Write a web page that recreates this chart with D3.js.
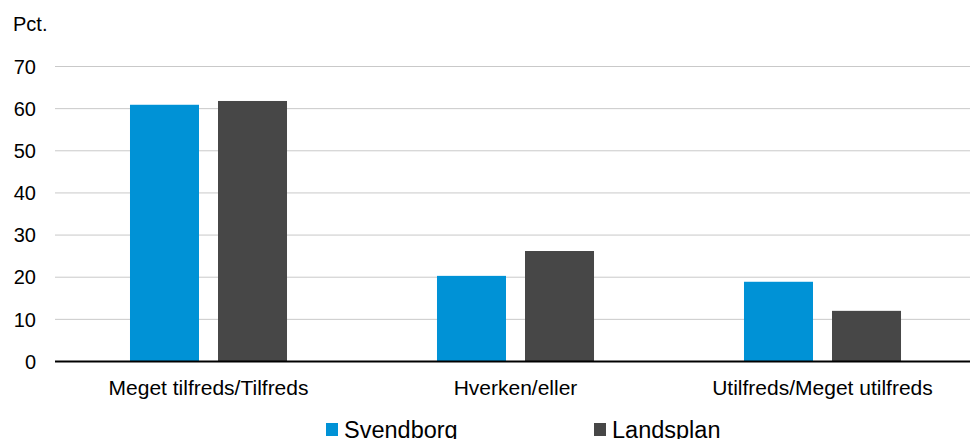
<!DOCTYPE html>
<html>
<head>
<meta charset="utf-8">
<script src="https://cdn.jsdelivr.net/npm/d3@7"></script>
<style>
  body { margin: 0; background: #fff; }
  svg { font-family: "Liberation Sans", Arial, sans-serif; }
</style>
</head>
<body>
<div id="chart"></div>
<script>
// Data
const categories = ['Meget tilfreds/Tilfreds', 'Hverken/eller', 'Utilfreds/Meget utilfreds'];
const seriesNames = ['Svendborg', 'Landsplan'];
const svendborg = [60.8, 20.2, 18.8];
const landsplan = [61.7, 26.1, 11.9];
const yTicks = [0, 10, 20, 30, 40, 50, 60, 70];
const colors = ['#0092d6', '#474747'];

const width = 970, height = 439;
const margin = { top: 66, left: 55, bottom: 78 };
const plotRight = 976; // plot runs a little past the window edge

const svg = d3.select('#chart').append('svg')
    .attr('width', width)
    .attr('height', height);

const x = d3.scaleBand()
    .domain(categories)
    .range([margin.left, plotRight]);

const x1 = d3.scaleBand()
    .domain(seriesNames)
    .range([0, x.bandwidth()])
    .paddingInner(0.216)
    .paddingOuter(0.852);

const y = d3.scaleLinear()
    .domain([0, 70])
    .range([height - margin.bottom, margin.top]);

// grid lines
svg.append('g')
    .selectAll('line')
    .data(yTicks.filter(d => d > 0))
    .enter().append('line')
    .attr('x1', margin.left)
    .attr('x2', plotRight)
    .attr('y1', d => y(d) + 0.5)
    .attr('y2', d => y(d) + 0.5)
    .style('stroke', '#c9c9c9')
    .style('stroke-width', 1);

// y axis labels
const yAxis = d3.axisLeft(y).tickValues(yTicks).tickSize(0).tickPadding(6);
svg.append('g')
    .attr('transform', 'translate(' + (margin.left - 13) + ',0)')
    .call(yAxis)
    .call(g => g.select('.domain').remove())
    .call(g => g.selectAll('text')
        .attr('dy', '0.36em')
        .style('font-size', '20px')
        .style('fill', '#000'));

// bars
const rows = categories.map((c, i) => ({ cat: c, values: [svendborg[i], landsplan[i]] }));
const groups = svg.append('g')
    .selectAll('g')
    .data(rows)
    .enter().append('g')
    .attr('transform', d => 'translate(' + x(d.cat) + ',0)');

groups.selectAll('rect')
    .data(d => d.values.map((v, j) => ({ name: seriesNames[j], value: v, j: j })))
    .enter().append('rect')
    .attr('x', d => x1(d.name))
    .attr('width', x1.bandwidth())
    .attr('y', d => y(d.value))
    .attr('height', d => y(0) - y(d.value))
    .style('fill', d => colors[d.j]);

// x axis baseline
svg.append('line')
    .attr('x1', margin.left)
    .attr('x2', plotRight)
    .attr('y1', y(0) + 0.5)
    .attr('y2', y(0) + 0.5)
    .style('stroke', '#000')
    .style('stroke-width', 2);

// category labels
const xAxis = d3.axisBottom(x).tickSize(0).tickPadding(19);
svg.append('g')
    .attr('transform', 'translate(0,' + y(0) + ')')
    .call(xAxis)
    .call(g => g.select('.domain').remove())
    .call(g => g.selectAll('text')
        .style('font-size', '21px')
        .style('fill', '#000'));

// unit label
svg.append('text')
    .attr('x', 13)
    .attr('y', 31)
    .style('font-size', '20px')
    .text('Pct.');

// legend
const legendX = [326, 594];
const legend = svg.append('g')
    .selectAll('g')
    .data(seriesNames)
    .enter().append('g')
    .attr('transform', (d, i) => 'translate(' + legendX[i] + ',0)');
legend.append('rect')
    .attr('x', 0)
    .attr('y', 423)
    .attr('width', 12)
    .attr('height', 13)
    .style('fill', (d, i) => colors[i]);
legend.append('text')
    .attr('x', 18)
    .attr('y', 438)
    .style('font-size', '23.5px')
    .text(d => d);
</script>
</body>
</html>
